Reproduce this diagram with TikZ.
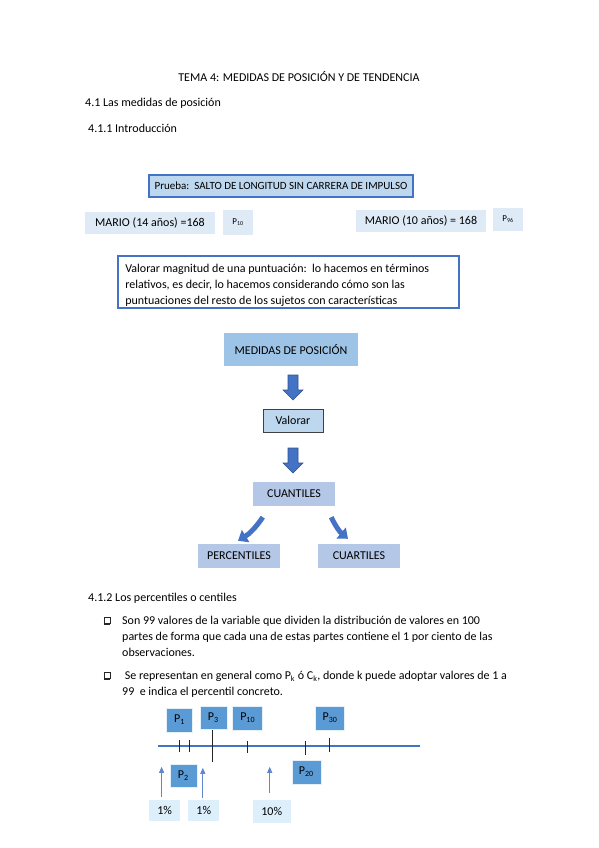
\documentclass[tikz,border=0pt]{standalone}
\usepackage{fontspec}
\setmainfont{Carlito}
\usepackage{tikz}
\usetikzlibrary{calc,arrows.meta}

% Farben
\definecolor{blaurand}{HTML}{4472C4}
\definecolor{blaudunkel}{HTML}{2F528F}
\definecolor{hellblau}{HTML}{BDD7EE}
\definecolor{blass}{HTML}{DEEBF7}
\definecolor{mittelblau}{HTML}{9DC3E6}
\definecolor{graublau}{HTML}{B4C7E7}
\definecolor{punktblau}{HTML}{5B9BD5}
\definecolor{prozentblau}{HTML}{DCEFFB}

\tikzset{
    schrift/.style={font=\fontsize{12}{16}\selectfont},
    kasten/.style={schrift, inner sep=0pt, align=center},
    fach/.style={kasten, fill=graublau},
    punkt/.style={kasten, fill=punktblau, draw=white!85!punktblau, line width=0.6pt},
    prozent/.style={kasten, fill=prozentblau},
    blockpfeil/.style={draw=blaudunkel, fill=blaurand, line width=0.6pt},
    bogen/.style={blaurand, line width=5pt, -{Triangle[width=14pt,length=9pt]}},
    hinweis/.style={blaurand!85, line width=0.7pt, -{Triangle[width=5pt,length=6pt]}},
    strich/.style={black!85, line width=0.8pt},
    quadrat/.style={draw=black!85, line width=0.7pt, minimum size=6pt, inner sep=0pt}
}

\begin{document}
\begin{tikzpicture}[x=1pt,y=-1pt]
    % Seite
    \useasboundingbox (0,0) rectangle (599,848);

    % Ueberschriften
    \node[schrift, anchor=base, inner sep=0pt] (titel) at (299,82) {TEMA 4: MEDIDAS DE POSICIÓN Y DE TENDENCIA};
    \node[schrift, anchor=base west, inner sep=0pt] (abschnittA) at (85,107) {4.1 Las medidas de posición};
    \node[schrift, anchor=base west, inner sep=0pt] (abschnittB) at (88,132) {4.1.1 Introducción};

    % Beispiel Prueba
    \node[kasten, fill=hellblau, draw=blaurand, line width=1.4pt, font=\fontsize{11}{13}\selectfont,
        minimum width=264pt, minimum height=22pt] (prueba) at (281,186)
        {Prueba:\ \ SALTO DE LONGITUD SIN CARRERA DE IMPULSO};
    \node[kasten, fill=blass, minimum width=130pt, minimum height=22pt] (marioA) at (150,223) {MARIO (14 años) =168};
    \node[kasten, fill=blass, minimum width=30pt, minimum height=25pt,
        font=\fontsize{9}{10}\selectfont] (pA) at (238,222.5) {P\textsubscript{10}};
    \node[kasten, fill=blass, minimum width=130pt, minimum height=22pt] (marioB) at (421,221) {MARIO (10 años) = 168};
    \node[kasten, fill=blass, minimum width=30pt, minimum height=23pt,
        font=\fontsize{9}{10}\selectfont] (pB) at (508,219.5) {P\textsubscript{96}};

    % Textkasten, unten abgeschnitten
    \node[draw=blaurand, fill=white, line width=1.8pt, minimum width=341pt, minimum height=52pt] (valbox) at (288.5,282) {};
    \begin{scope}
        \clip (valbox.south west) rectangle (valbox.north east);
        \node[schrift, anchor=north west, align=left, inner sep=0pt] (valtext) at ($(valbox.north west)+(8,9)$)
            {Valorar magnitud de una puntuación:\ \ lo hacemos en términos\\
             relativos, es decir, lo hacemos considerando cómo son las\\
             puntuaciones del resto de los sujetos con características};
    \end{scope}

    % Schema
    \node[kasten, fill=mittelblau, minimum width=134pt, minimum height=33pt] (medidas) at (291,349.5) {MEDIDAS DE POSICIÓN};
    \node[kasten, fill=hellblau, draw=black!75, line width=0.8pt, minimum width=60pt, minimum height=23pt] (valorar) at (293,420.5) {Valorar};
    \node[fach, minimum width=82pt, minimum height=24pt] (cuantiles) at (294,494) {CUANTILES};
    \node[fach, minimum width=82pt, minimum height=24pt] (percentiles) at (239,556) {PERCENTILES};
    \node[fach, minimum width=82pt, minimum height=24pt] (cuartiles) at (359,556) {CUARTILES};

    % Blockpfeile
    \coordinate (pfeilA) at (293,375);
    \coordinate (pfeilB) at (293,448);
    \foreach \p in {pfeilA, pfeilB}
        \draw[blockpfeil] ($(\p)+(-5,0)$) -- ++(10,0) -- ++(0,15) -- ++(5,0) -- ++(-10,10)
            -- ++(-10,-10) -- ++(5,0) -- cycle;
    % gebogene Pfeile
    \draw[bogen] ($(cuantiles.south west)+(10,11)$) to[bend left=12] ($(percentiles.north)+(-1,-3)$);
    \draw[bogen] ($(cuantiles.south east)+(-4,11)$) to[bend right=12] ($(cuartiles.north)+(-11,-5)$);

    % Percentiles
    \node[schrift, anchor=base west, inner sep=0pt] (abschnittC) at (88,601) {4.1.2 Los percentiles o centiles};
    \node[quadrat] (bulA) at (107,620.5) {};
    \draw[black!85, line width=1.3pt] (bulA.south west) -- (bulA.south east);
    \node[schrift, anchor=north west, align=left, inner sep=0pt] (textA) at (122,616)
        {Son 99 valores de la variable que dividen la distribución de valores en 100\\
         partes de forma que cada una de estas partes contiene el 1 por ciento de las\\
         observaciones.};
    \node[quadrat] (bulB) at (107,675.5) {};
    \draw[black!85, line width=1.3pt] (bulB.south west) -- (bulB.south east);
    \node[schrift, anchor=north west, align=left, inner sep=0pt] (textB) at (122,671)
        {\ Se representan en general como P\textsubscript{k} ó C\textsubscript{k}, donde k puede adoptar valores de 1 a\\
         99\ \ e indica el percentil concreto.};

    % Zahlenstrahl
    \coordinate (strahlA) at (158,746);
    \coordinate (strahlB) at (420,746);
    \draw[blaurand, line width=2pt] (strahlA) -- (strahlB);
    \foreach \x/\a/\b in {179/740/752, 189/740/752, 212/730/762, 247/741/753, 305.5/741/755, 329.5/738/752}
        \draw[strich] (\x,\a) -- (\x,\b);

    % Kaesten am Strahl
    \node[punkt, minimum width=26pt, minimum height=24pt] (pEins) at (179.5,720) {P\textsubscript{1}};
    \node[punkt, minimum width=27pt, minimum height=23pt] (pDrei) at (213.3,717.5) {P\textsubscript{3}};
    \node[punkt, minimum width=30pt, minimum height=24pt] (pZehn) at (247.7,718) {P\textsubscript{10}};
    \node[punkt, minimum width=29pt, minimum height=24pt] (pDreissig) at (330,718) {P\textsubscript{30}};
    \node[punkt, minimum width=27pt, minimum height=23pt] (pZwei) at (183.3,775.3) {P\textsubscript{2}};
    \node[punkt, minimum width=29pt, minimum height=24pt] (pZwanzig) at (306.3,772) {P\textsubscript{20}};

    % Prozente
    \node[prozent, minimum width=31pt, minimum height=21pt] (prozA) at (164.6,810.5) {1\%};
    \node[prozent, minimum width=31pt, minimum height=21pt] (prozB) at (203.8,810.5) {1\%};
    \node[prozent, minimum width=38pt, minimum height=23pt] (prozC) at (271.7,811.5) {10\%};
    \draw[hinweis] ($(prozA.north)+(-3,-3)$) -- ++(0,-30);
    \draw[hinweis] ($(prozB.north)+(-1,-2)$) -- ++(0,-30);
    \draw[hinweis] ($(prozC.north)+(-2,-7)$) -- ++(0,-26);
\end{tikzpicture}
\end{document}
